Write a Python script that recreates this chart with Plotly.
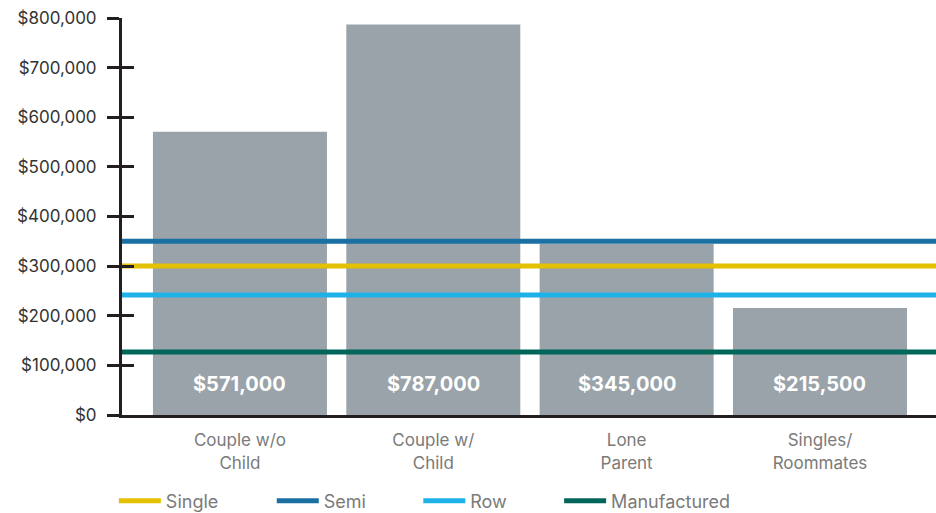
import plotly.graph_objects as go

# Household types and their affordable purchase prices
categories = ["Couple w/o<br>Child", "Couple w/<br>Child", "Lone<br>Parent", "Singles/<br>Roommates"]
affordable = [571000, 787000, 345000, 215500]
bar_labels = ["$571,000", "$787,000", "$345,000", "$215,500"]

# Average prices by dwelling type (horizontal reference lines)
dwelling_types = ["Single", "Semi", "Row", "Manufactured"]
dwelling_prices = [300000, 350000, 242000, 127000]
dwelling_colors = ["#E3C000", "#1A70A3", "#1FB2E8", "#00665A"]

y_ticks = [0, 100000, 200000, 300000, 400000, 500000, 600000, 700000, 800000]
y_tick_text = ["$0", "$100,000", "$200,000", "$300,000", "$400,000",
               "$500,000", "$600,000", "$700,000", "$800,000"]

FONT = "Inter"
AXIS_COLOR = "#231F20"

fig = go.Figure()

fig.add_trace(go.Bar(
    x=list(range(len(categories))),
    y=affordable,
    marker=dict(color="#99A3A9", line=dict(width=0)),
    width=0.9,
    showlegend=False,
    hoverinfo="skip",
))

# Reference lines span the whole plot width on a helper x axis;
# each entry gets its own legend so the entries sit where wanted
legend_x = [-0.01, 0.184, 0.364, 0.537]
legend_names = ["legend", "legend2", "legend3", "legend4"]
for name, price, color, lg in zip(dwelling_types, dwelling_prices, dwelling_colors, legend_names):
    fig.add_trace(go.Scatter(
        x=[0, 1], y=[price, price],
        xaxis="x2",
        mode="lines",
        line=dict(color=color, width=5),
        name=name,
        legend=lg,
    ))

# Value labels near the base of each bar
for i, label in enumerate(bar_labels):
    fig.add_annotation(
        x=i, y=62000, text=f"<b>{label}</b>", showarrow=False,
        font=dict(family=FONT, size=20, color="white"),
    )

legend_style = dict(
    orientation="h", yanchor="middle", y=-0.217, xanchor="left",
    font=dict(family=FONT, size=18, color="#7A7A7A"),
    itemwidth=42, bgcolor="rgba(0,0,0,0)",
)

fig.update_layout(
    width=936, height=513,
    margin=dict(l=122, r=0, t=18, b=98, autoexpand=False),
    plot_bgcolor="white", paper_bgcolor="white",
    font=dict(family=FONT),
    bargap=0.1,
    xaxis=dict(
        range=[-0.61, 3.6],
        tickmode="array",
        tickvals=list(range(len(categories))),
        ticktext=categories,
        showline=True, linewidth=3, linecolor=AXIS_COLOR,
        ticks="", showgrid=False, zeroline=False,
        ticklabelstandoff=8,
        tickfont=dict(family=FONT, size=17, color="#7A7A7A"),
    ),
    xaxis2=dict(
        range=[0, 1], overlaying="x", visible=False,
    ),
    yaxis=dict(
        range=[0, 800000],
        tickmode="array",
        tickvals=y_ticks,
        ticktext=y_tick_text,
        showline=True, linewidth=3, linecolor=AXIS_COLOR,
        ticks="outside", ticklen=12, tickwidth=3, tickcolor=AXIS_COLOR,
        showgrid=False, zeroline=False,
        ticklabelstandoff=7,
        tickfont=dict(family=FONT, size=17, color="#333333"),
    ),
    yaxis2=dict(
        range=[0, 800000], overlaying="y", side="left",
        tickmode="array", tickvals=y_ticks, showticklabels=False,
        ticks="inside", ticklen=12, tickwidth=3, tickcolor=AXIS_COLOR,
        showline=False, showgrid=False, zeroline=False,
    ),
    legend=dict(legend_style, x=legend_x[0]),
    legend2=dict(legend_style, x=legend_x[1]),
    legend3=dict(legend_style, x=legend_x[2]),
    legend4=dict(legend_style, x=legend_x[3]),
)

# Placeholder trace so the inside ticks of yaxis2 are rendered
fig.add_trace(go.Scatter(x=[None], y=[None], yaxis="y2", showlegend=False, hoverinfo="skip"))

fig.write_html("out.html")
